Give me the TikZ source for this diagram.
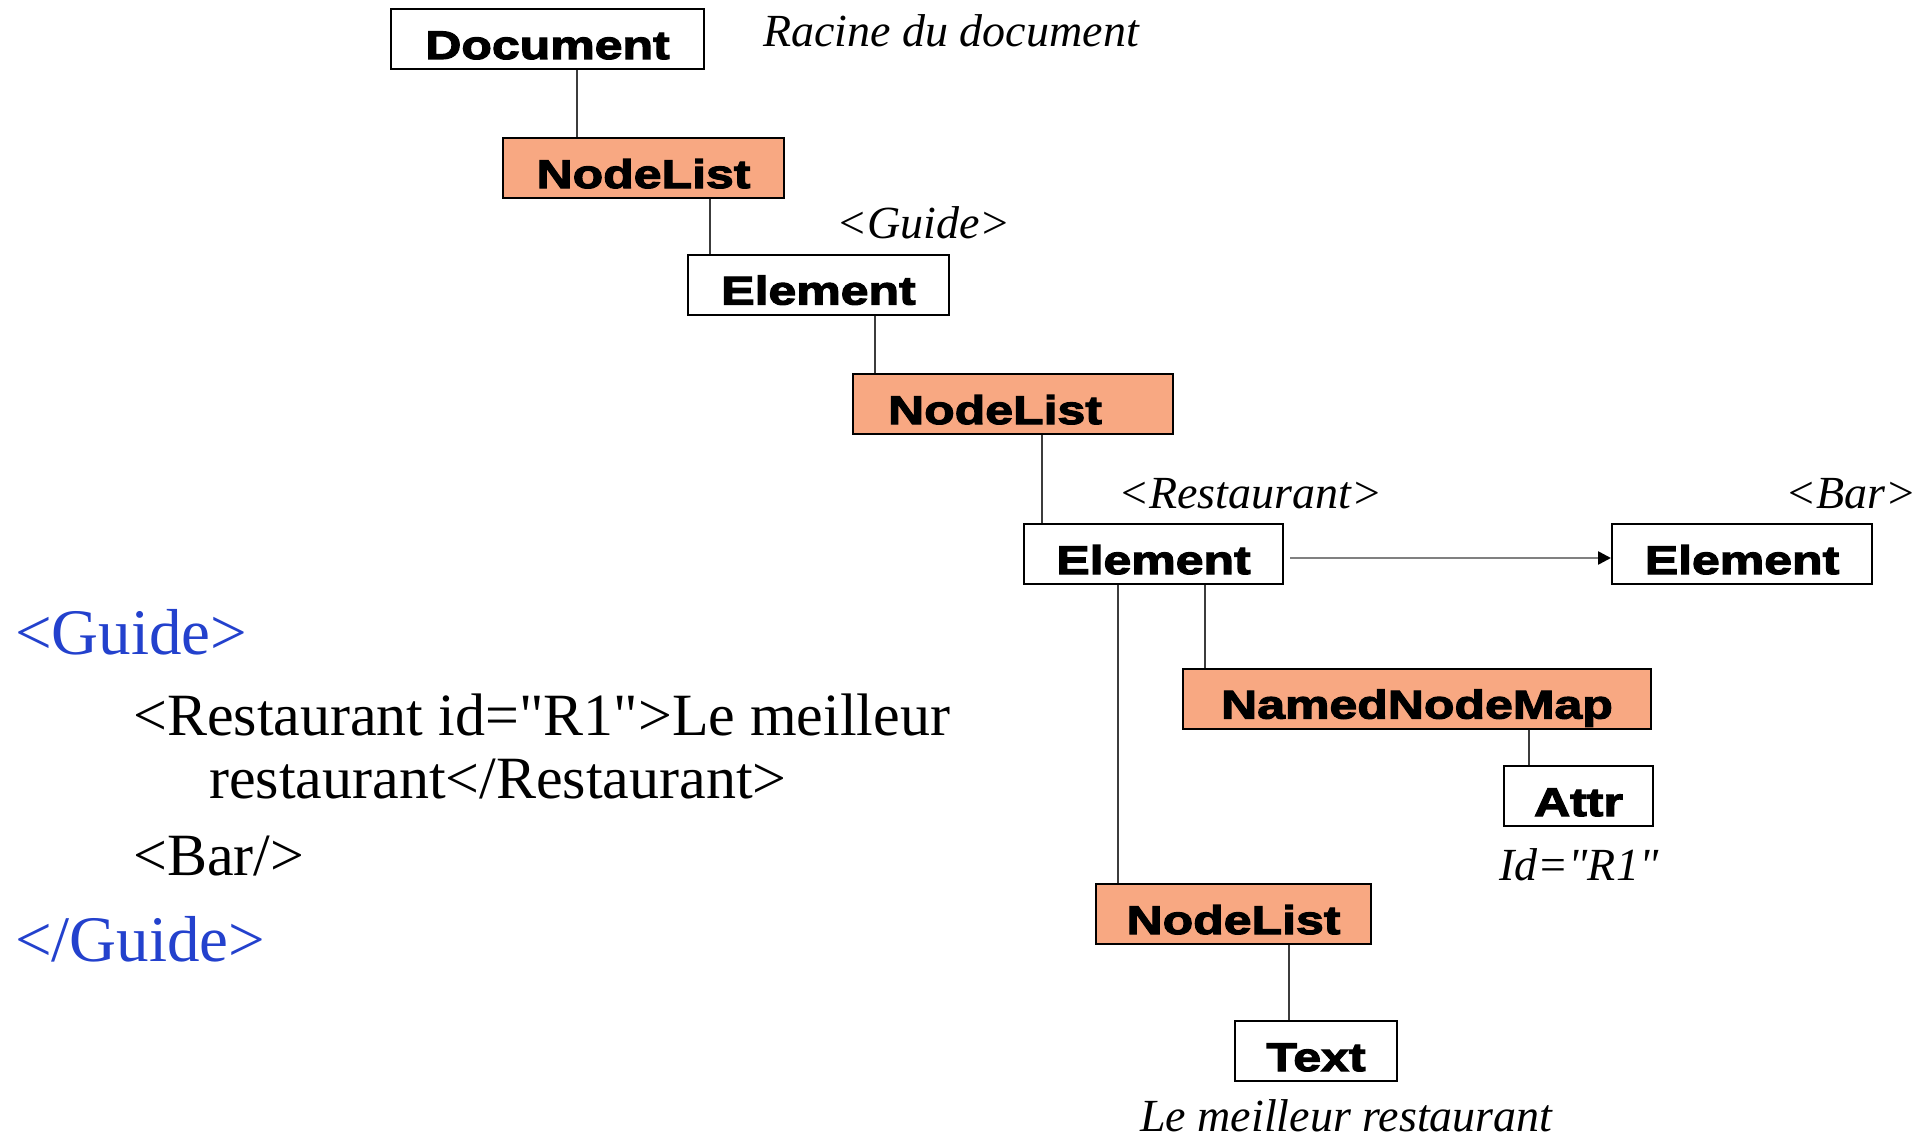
\documentclass[tikz,border=0pt]{standalone}
\usepackage{fontspec}
\setmainfont{Liberation Serif}
\newfontfamily\boxfont[FakeStretch=1.25,FakeBold=3]{Liberation Sans Bold}
\newfontfamily\labfont{Liberation Serif Italic}
\newfontfamily\codefont{Liberation Serif}
\usetikzlibrary{arrows.meta}
\definecolor{boxorange}{RGB}{248,168,130}
\definecolor{xmlblue}{RGB}{35,65,205}
\definecolor{linegray}{RGB}{60,60,60}
\tikzset{
  wbox/.style={draw=black, line width=2pt, fill=white, minimum height=60pt, inner sep=0pt,
    text height=40pt, text depth=0pt, font=\boxfont\fontsize{40}{40}\selectfont},
  obox/.style={wbox, fill=boxorange},
  lab/.style={anchor=base west, inner sep=0pt, font=\labfont\fontsize{46}{46}\selectfont},
  code/.style={anchor=base west, inner sep=0pt, font=\codefont\fontsize{60}{60}\selectfont},
  guidecode/.style={code, text=xmlblue, font=\codefont\fontsize{65}{65}\selectfont},
  conn/.style={draw=linegray, line width=1.8pt},
  arrowline/.style={draw=black!50, line width=2.5pt, -{Triangle[length=13pt,width=13pt,color=black]}}
}
\begin{document}
\begin{tikzpicture}[x=1pt,y=-1pt]
\fill[white] (0,0) rectangle (1930,1140);
\useasboundingbox (0,0) rectangle (1930,1140);

% boxes
\node[wbox, minimum width=313pt] (doc) at (547.5,39) {Document};
\node[obox, minimum width=281pt] (nl1) at (643.5,168) {NodeList};
\node[wbox, minimum width=261pt] (el1) at (818.5,284.5) {Element};
\node[obox, minimum width=320pt] (nl2) at (1013,404) {\hspace*{-36pt}NodeList};
\node[wbox, minimum width=259pt] (el2) at (1153.5,554) {Element};
\node[wbox, minimum width=260pt] (el3) at (1742,554) {Element};
\node[obox, minimum width=468pt] (nnm) at (1417,698.5) {NamedNodeMap};
\node[wbox, minimum width=149pt] (attr) at (1578.5,796) {Attr};
\node[obox, minimum width=275pt] (nl3) at (1233.5,914) {NodeList};
\node[wbox, minimum width=162pt] (txt) at (1316,1051) {Text};

% connectors
\draw[conn] ([xshift=29.5pt]doc.south) -- ([xshift=-66.5pt]nl1.north);
\draw[conn] ([xshift=66.5pt]nl1.south) -- ([xshift=-108.5pt]el1.north);
\draw[conn] ([xshift=56.5pt]el1.south) -- ([xshift=-138pt]nl2.north);
\draw[conn] ([xshift=29pt]nl2.south) -- ([xshift=-111.5pt]el2.north);
\draw[conn] ([xshift=51.5pt]el2.south) -- ([xshift=-212pt]nnm.north);
\draw[conn] ([xshift=-35.5pt]el2.south) -- ([xshift=-115.5pt]nl3.north);
\draw[conn] ([xshift=112pt]nnm.south) -- ([xshift=-49.5pt]attr.north);
\draw[conn] ([xshift=55.5pt]nl3.south) -- ([xshift=-27pt]txt.north);
\draw[arrowline] ([xshift=6pt,yshift=-4pt]el2.east) -- ([yshift=-4pt]el3.west);

% labels
\node[lab] (rac) at (763,47) {Racine du document};
\node[lab] (lguide) at (836,238) {<Guide>};
\node[lab] (lrest) at (1118,508) {<Restaurant>};
\node[lab] (lbar) at (1785,508) {<Bar>};
\node[lab] (lid) at (1499,880) {Id="R1"};
\node[lab] (lle) at (1140,1131) {Le meilleur restaurant};

% XML code
\node[guidecode] (g1) at (15,654) {<Guide>};
\node[code] (c1) at (133,735) {<Restaurant id="R1">Le meilleur};
\node[code] (c2) at (209,798) {restaurant</Restaurant>};
\node[code] (c3) at (133,875) {<Bar/>};
\node[guidecode] (g2) at (15,961) {</Guide>};
\end{tikzpicture}
\end{document}
